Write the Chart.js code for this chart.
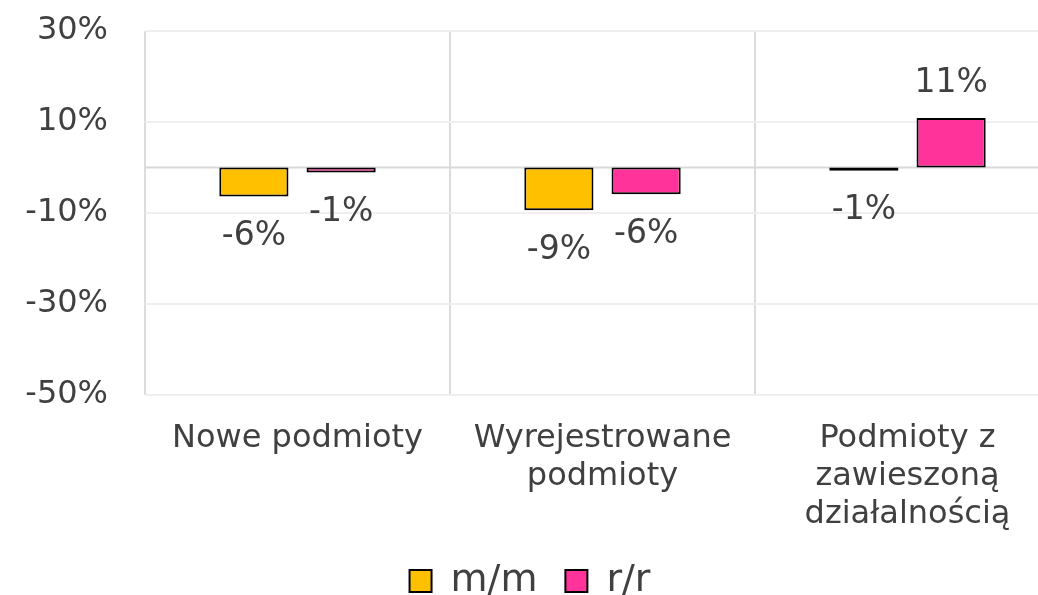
<!DOCTYPE html>
<html>
<head>
<meta charset="utf-8">
<script src="https://cdn.jsdelivr.net/npm/chart.js@4/dist/chart.umd.min.js"></script>
<style>
  html, body { margin: 0; padding: 0; background: #fff; overflow: hidden; }
  #wrap { width: 1060px; height: 647px; position: absolute; left: 0; top: -30px; }
</style>
</head>
<body>
<div id="wrap"><canvas id="chart"></canvas></div>
<script>
// categories and series values (in %)
const categories = [
  'Nowe podmioty',
  ['Wyrejestrowane', 'podmioty'],
  ['Podmioty z', 'zawieszoną', 'działalnością']
];
const seriesNames = ['m/m', 'r/r'];
const mmValues = [-6.4, -9.4, -0.7];
const rrValues = [-1.1, -5.9, 10.9];
const yTicks = [-50, -30, -10, 10, 30];

const textColor = '#404040';
const fontFamily = '"DejaVu Sans", sans-serif';

// zero line across the plot
const zeroLine = {
  id: 'zeroLine',
  beforeDatasetsDraw(chart) {
    const { ctx, chartArea, scales } = chart;
    const y = scales.y.getPixelForValue(0);
    ctx.save();
    ctx.strokeStyle = '#d9d9d9';
    ctx.lineWidth = 2;
    ctx.beginPath();
    ctx.moveTo(chartArea.left, y);
    ctx.lineTo(chartArea.right, y);
    ctx.stroke();
    ctx.restore();
  }
};

// value labels under negative bars, above positive ones
const valueLabels = {
  id: 'valueLabels',
  afterDatasetsDraw(chart) {
    const ctx = chart.ctx;
    ctx.save();
    ctx.fillStyle = textColor;
    ctx.font = '33px ' + fontFamily;
    ctx.textAlign = 'center';
    ctx.textBaseline = 'middle';
    chart.data.datasets.forEach((ds, i) => {
      chart.getDatasetMeta(i).data.forEach((bar, j) => {
        const v = ds.data[j];
        const y = v < 0 ? bar.y + 40 : bar.y - 34;
        ctx.fillText(Math.round(v) + '%', bar.x, y);
      });
    });
    ctx.restore();
  }
};

const ctx = document.getElementById('chart').getContext('2d');
new Chart(ctx, {
  type: 'bar',
  data: {
    labels: categories,
    datasets: [{
      label: seriesNames[0],
      data: mmValues,
      backgroundColor: '#FFC000',
      borderColor: '#000000',
      borderWidth: 2,
      borderSkipped: false,
      categoryPercentage: 0.572,
      barPercentage: 0.793
    }, {
      label: seriesNames[1],
      data: rrValues,
      backgroundColor: '#FF3399',
      borderColor: '#000000',
      borderWidth: 2,
      borderSkipped: false,
      categoryPercentage: 0.572,
      barPercentage: 0.793
    }]
  },
  options: {
    responsive: true,
    maintainAspectRatio: false,
    animation: false,
    layout: { padding: { top: 61, bottom: 7, right: 0 } },
    scales: {
      x: {
        afterFit(scale) {
          scale.height = 139;
        },
        grid: { offset: true, color: '#dcdcdc', lineWidth: 2, drawTicks: false },
        border: { display: false },
        ticks: {
          color: textColor,
          font: { family: fontFamily, size: 32, lineHeight: 1.2 },
          padding: 24,
          maxRotation: 0
        }
      },
      y: {
        min: -50,
        max: 30,
        afterBuildTicks(scale) {
          scale.ticks = yTicks.map(v => ({ value: v }));
        },
        afterFit(scale) {
          scale.width = 145;
          scale.paddingTop = 0;
          scale.paddingBottom = 0;
        },
        grid: { color: '#efefef', lineWidth: 2, drawTicks: false },
        border: { display: false },
        ticks: {
          color: textColor,
          font: { family: fontFamily, size: 32 },
          padding: 37,
          callback: v => v + '%'
        }
      }
    },
    plugins: {
      legend: {
        position: 'bottom',
        padding: 0,
        labels: {
          color: textColor,
          font: { family: fontFamily, size: 38 },
          boxWidth: 22,
          boxHeight: 22,
          padding: 28
        }
      },
      tooltip: { enabled: false }
    }
  },
  plugins: [zeroLine, valueLabels]
});
</script>
</body>
</html>
